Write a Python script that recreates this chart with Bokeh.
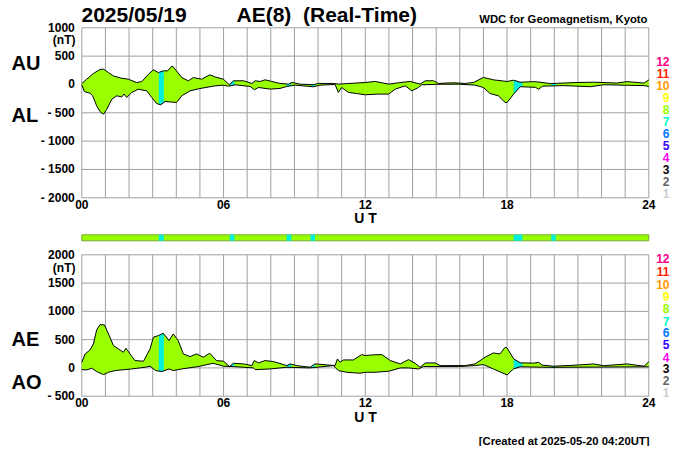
import numpy as np
from bokeh.plotting import figure
from bokeh.models import FixedTicker, Label, Range1d, LinearAxis
from bokeh.embed import file_html
from bokeh.resources import INLINE

FONT = "Liberation Sans"
GREEN = "#99ff00"
CYAN = "#00eedd"
GRID = "#a0a0a0"

au_h = [0,.21,.49,.77,.92,1.13,1.34,1.69,1.97,2.32,2.54,2.82,3.03,3.24,3.45,3.63,3.83,4.01,4.23,4.51,4.72,5.07,5.42,5.63,5.99,
        6.25,6.42,6.85,7.2,7.34,7.55,7.76,8.04,8.39,8.75,8.89,9.24,9.8,10.01,10.65,10.86,
        12,12.42,12.99,13.41,13.9,14.32,14.54,14.89,15.1,15.73,16.23,16.58,17,17.42,18,
        18.28,18.56,19.13,19.3,19.83,20.96,21.67,22.65,23.08,23.8,24]
au_v = [16,93,193,264,270,210,150,110,93,34,52,180,258,210,240,240,328,240,122,64,122,93,170,134,93,
        -5,65,65,18,65,53,82,53,18,6,35,6,-5,18,18,6,
        35,53,6,30,53,6,65,65,18,30,18,35,124,82,53,
        75,40,50,45,15,35,40,25,50,25,80]
al_h = [0,.11,.35,.46,.63,.77,.92,1.06,1.27,1.48,1.69,1.79,1.9,2.11,2.39,2.75,2.96,3.17,3.34,3.52,4.01,4.23,4.58,5,5.63,5.99,
        6.21,6.49,7.13,7.31,7.48,7.97,8.39,8.68,9.03,9.8,10.08,10.72,10.86,11,11.28,11.63,
        12,12.56,12.99,13.27,13.69,13.97,14.25,14.39,15.24,15.94,16.65,17,17.28,17.63,17.92,18,
        18.28,18.56,19.2,19.34,19.5,20.4,21.53,22.09,23.8,24]
al_v = [-7,-125,-155,-200,-378,-478,-525,-436,-260,-200,-220,-170,-230,-142,-84,-113,-230,-336,-360,-300,-318,-200,-113,-72,-25,-13,
        -30,-6,-35,-94,-53,-82,-70,-35,-12,-41,-12,0,-140,-53,-140,-160,
        -182,-170,-170,-82,-24,-112,-53,-6,6,6,-12,-53,-160,-200,-318,-318,
        -170,-40,-50,-85,-30,-20,-40,-5,-20,-35]
ae_h = [0,.14,.35,.49,.63,.77,.96,1.13,1.34,1.55,1.76,1.87,2.04,2.25,2.61,2.89,3.03,3.24,3.45,3.69,3.87,4.08,4.3,4.58,4.86,5.14,5.42,5.7,
        6,6.25,6.42,6.85,7.2,7.3,7.48,7.76,8.11,8.68,8.82,9.1,9.66,9.87,10.72,10.82,10.93,11.07,11.49,11.85,
        12,12.28,12.7,13.06,13.48,13.83,14.11,14.32,14.54,14.96,15.17,16.23,16.65,17.07,17.42,17.7,17.92,18,
        18.28,18.56,19.13,19.34,19.48,19.97,20.96,21.67,22.09,23.08,23.8,24]
ae_v = [100,247,318,424,672,766,760,600,395,336,277,348,247,130,118,336,542,572,613,483,601,483,247,200,247,189,259,130,
        118,24,82,71,41,130,88,130,112,41,71,41,12,71,41,159,100,141,141,236,
        218,230,236,130,71,147,82,12,88,88,41,41,71,189,265,247,365,354,
        160,90,85,100,50,30,50,70,40,70,30,110]
ao_h = [0,.21,.42,.63,.92,1.13,1.41,2.11,2.68,2.89,3.13,3.38,3.69,3.87,4.23,4.93,5.56,
        6,6.42,7.27,7.34,7.97,8.68,9.66,10.65,10.86,11.21,11.77,
        12,12.42,12.99,13.48,13.83,14.25,14.46,15.94,16.65,17,17.42,18,
        18.28,18.56,19.83,24]
ao_v = [-30,-35,-6,-65,-118,-77,-47,-18,12,30,-47,-65,-18,-47,-18,24,82,
        30,24,0,-30,-18,12,0,41,-47,-77,-94,
        -77,-77,-59,0,0,-18,24,24,41,59,-18,-124,
        -15,20,10,20]

seg_start = [3.26, 6.26, 8.67, 9.68, 18.28, 19.87]
seg_end = [3.47, 6.46, 8.87, 9.87, 18.65, 20.06]

top_ticks = [-2000, -1500, -1000, -500, 0, 500, 1000]
top_labels = ["- 2000", "- 1500", "- 1000", "- 500", "0", "500", "1000"]
bot_ticks = [-500, 0, 500, 1000, 1500, 2000]
bot_labels = ["- 500", "0", "500", "1000", "1500", "2000"]
hour_ticks = [0, 6, 12, 18, 24]
hour_labels = ["00", "06", "12", "18", "24"]
all_hours = list(range(25))
legend_text = ["12", "11", "10", "9", "8", "7", "6", "5", "4", "3", "2", "1"]
legend_colors = ["#ff0088", "#ff2200", "#ff9900", "#ffff00", "#99ff00", "#00ffcc", "#0077ff", "#3300ff", "#ff00ff", "#000000", "#666666", "#cccccc"]
top_legend_y = [61, 73, 85, 97, 109, 121, 133, 145, 157, 169, 181, 193]
bot_legend_y = [258, 271, 284, 296, 308, 321, 332, 344, 357, 368, 380, 392]

W, H = 684, 446
X0, X1 = 81.3, 648.3            # page px of hour 0 and hour 24
T_TOP, T_BOT = 27.3, 197.3      # page px of upper panel
B_TOP, B_BOT = 254.3, 395.7     # page px of lower panel
S_TOP, S_BOT = 234.3, 240.3     # page px of status bar


def span(px_top, px_bot, vtop, vbot):
    k = (vtop - vbot) / (px_bot - px_top)
    return Range1d(vbot - (H - px_bot) * k, vtop + px_top * k)


kx = 24 / (X1 - X0)
p = figure(width=W, height=H, output_backend="svg", toolbar_location=None,
           x_range=Range1d(-X0 * kx, (W - X0) * kx),
           y_range=span(T_TOP, T_BOT, 1000, -2000),
           x_axis_type=None, y_axis_type=None,
           min_border_left=0, min_border_right=0, min_border_top=0, min_border_bottom=0)
p.outline_line_color = None
p.grid.visible = False
p.extra_y_ranges = {"bot": span(B_TOP, B_BOT, 2000, -500), "bar": span(S_TOP, S_BOT, 1, 0)}


def panel(rname, ymin, ymax, ticks, labels):
    kw = {} if rname is None else {"y_range_name": rname}
    p.segment(all_hours, ymin, all_hours, ymax, line_color=GRID, line_width=1, **kw)
    p.segment(0, ticks, 24, ticks, line_color=GRID, line_width=1, **kw)
    ya = LinearAxis(ticker=FixedTicker(ticks=ticks), major_label_overrides=dict(zip(ticks, labels)),
                    fixed_location=0, **kw)
    xa = LinearAxis(ticker=FixedTicker(ticks=hour_ticks), major_label_overrides=dict(zip(hour_ticks, hour_labels)),
                    fixed_location=ymin, **kw)
    for ax in (ya, xa):
        ax.axis_line_color = None
        ax.major_tick_line_color = None
        ax.minor_tick_line_color = None
        ax.major_tick_out = 0
        ax.major_tick_in = 0
        ax.minor_tick_out = 0
        ax.major_label_text_font = FONT
        ax.major_label_text_font_style = "bold"
        ax.major_label_text_font_size = "12px"
        ax.major_label_text_color = "black"
    ya.major_label_standoff = 7
    xa.major_label_standoff = 2
    p.add_layout(ya, "left")
    p.add_layout(xa, "below")


def fill(rname, hu, vu, hl, vl):
    kw = {} if rname is None else {"y_range_name": rname}
    grid = np.array(sorted(set(hu) | set(hl) | set(seg_start) | set(seg_end)))
    up = np.interp(grid, hu, vu)
    lo = np.interp(grid, hl, vl)
    p.varea(grid, lo, up, fill_color=GREEN, **kw)
    for a, b in zip(seg_start, seg_end):
        m = (grid >= a) & (grid <= b)
        p.varea(grid[m], lo[m], up[m], fill_color=CYAN, **kw)
    p.line(hu, vu, line_color="black", line_width=1, **kw)
    p.line(hl, vl, line_color="black", line_width=1, **kw)


def text(x, y, s, size, color="black", align="left"):
    p.add_layout(Label(x=x, y=H - y, x_units="screen", y_units="screen",
                       text=s, text_font=FONT, text_font_style="bold", text_font_size=size,
                       text_color=color, text_align=align, text_baseline="middle"))


panel(None, -2000, 1000, top_ticks, top_labels)
panel("bot", -500, 2000, bot_ticks, bot_labels)
fill(None, au_h, au_v, al_h, al_v)
fill("bot", ae_h, ae_v, ao_h, ao_v)

p.quad(left=[0], right=[24], bottom=[0], top=[1], fill_color=GREEN, line_color="#77aa33", y_range_name="bar")
p.quad(left=seg_start, right=seg_end, bottom=0, top=1, fill_color=CYAN, line_color=None, y_range_name="bar")

text(81, 14, "2025/05/19", "21px")
text(236, 14, "AE(8)\u00a0\u00a0(Real-Time)", "21px")
text(647, 18, "WDC for Geomagnetism, Kyoto", "11.3px", align="right")
text(75, 39, "(nT)", "12px", align="right")
text(75, 267, "(nT)", "12px", align="right")
text(11, 62, "AU", "20px")
text(11, 114, "AL", "20px")
text(11, 338, "AE", "20px")
text(11, 381, "AO", "20px")
text(365, 217, "U T", "14px", align="center")
text(365, 416, "U T", "14px", align="center")
text(649, 440, "[Created at 2025-05-20 04:20UT]", "11.3px", align="right")
for s, c, y1, y2 in zip(legend_text, legend_colors, top_legend_y, bot_legend_y):
    text(669, y1, s, "12px", color=c, align="right")
    text(669, y2, s, "12px", color=c, align="right")

open("out.html", "w").write(file_html(p, INLINE))
